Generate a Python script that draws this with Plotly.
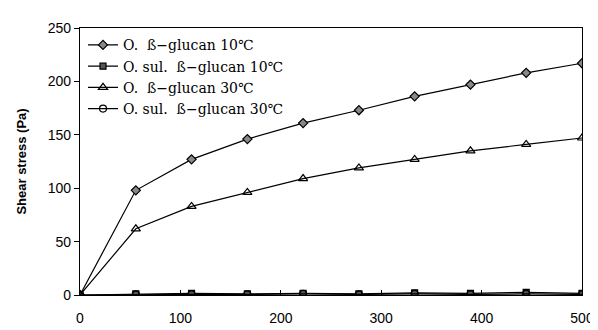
import plotly.graph_objects as go

shear_rate = [0, 55.6, 111.1, 166.7, 222.2, 277.8, 333.3, 388.9, 444.4, 500]
beta_10 = [0, 98, 127, 146, 161, 173, 186, 197, 208, 217]
sul_10 = [0, 1, 1.5, 1, 1.5, 1, 2, 1.5, 2.5, 1.5]
beta_30 = [0, 62, 83, 96, 109, 119, 127, 135, 141, 147]
sul_30 = [0, 0.5, 0.5, 0.5, 1, 0.5, 1, 0.5, 1, 0.5]

names = ["O.  ß−glucan 10℃", "O. sul.  ß−glucan 10℃", "O.  ß−glucan 30℃", "O. sul.  ß−glucan 30℃"]
series = [beta_10, sul_10, beta_30, sul_30]
symbols = ["diamond", "square", "triangle-up-open", "circle-open"]
fills = ["#888888", "#555555", "white", "white"]
sizes = [7, 6, 8, 7]

fig = go.Figure()
for nm, ys, sym, fc, sz in zip(names, series, symbols, fills, sizes):
    fig.add_trace(go.Scatter(
        x=shear_rate, y=ys, name=nm, mode="lines+markers",
        line=dict(color="black", width=1.2),
        marker=dict(symbol=sym, size=sz, color=fc if "open" not in sym else "black",
                    line=dict(color="black", width=1.2)),
    ))

fig.update_layout(
    width=598, height=330,
    margin=dict(l=72, r=12, t=16, b=38),
    paper_bgcolor="white", plot_bgcolor="white",
    showlegend=True,
    legend=dict(x=0.006, y=0.995, xanchor="left", yanchor="top",
                font=dict(family="DejaVu Serif, serif", size=14, color="black"),
                bgcolor="rgba(0,0,0,0)", tracegroupgap=0, itemwidth=30),
    font=dict(family="Liberation Sans Narrow, Arial Narrow, sans-serif", size=14, color="black"),
)
fig.update_xaxes(range=[0, 500], tickvals=[0, 100, 200, 300, 400, 500],
                 showline=True, linecolor="black", linewidth=1.2, mirror=True,
                 ticks="inside", ticklen=5, tickcolor="black", ticklabelstandoff=10,
                 showgrid=False, zeroline=False)
fig.update_yaxes(range=[0, 250], tickvals=[0, 50, 100, 150, 200, 250],
                 showline=True, linecolor="black", linewidth=1.2, mirror=True,
                 ticks="outside", ticklen=5, tickcolor="black",
                 showgrid=False, zeroline=False,
                 title=dict(text="<b>Shear stress (Pa)</b>",
                            font=dict(family="Liberation Sans, Arial, sans-serif", size=13),
                            standoff=18))

fig.write_html("out.html")
